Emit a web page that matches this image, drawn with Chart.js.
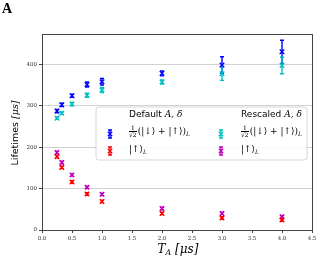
<!DOCTYPE html>
<html><head><meta charset="utf-8">
<script src="https://cdn.jsdelivr.net/npm/chart.js@4"></script>
<style>
body{margin:0;background:#fff;}
#wrap{position:relative;width:324px;height:267px;overflow:hidden;}
canvas{position:absolute;left:0;top:0;}
.t{position:absolute;white-space:nowrap;color:#000;line-height:1;}
.c{transform:translate(-50%,-50%);}
.m{font-family:'DejaVu Serif','Liberation Serif',serif;font-style:italic;}
.s{font-family:'DejaVu Sans',sans-serif;}
.fr{display:inline-block;vertical-align:middle;text-align:center;font-size:6px;line-height:1;margin-right:1px;font-family:'DejaVu Serif',serif;font-style:normal;}
.fr span{display:block;}
.fr .d{border-top:0.7px solid #000;}
sub{font-size:0.65em;vertical-align:-0.3em;}
</style></head><body>
<div id="wrap">
<canvas id="cv" width="324" height="267"></canvas>
<div class="t" style="left:2px;top:1px;font:bold 14px 'Liberation Serif',serif;">A</div>
<div class="t c s" style="left:15px;top:133px;font-size:9.5px;transform:translate(-50%,-50%) rotate(-90deg);">Lifetimes <span class="m">[μs]</span></div>
<div class="t c m" style="left:178px;top:250px;font-size:12px;">T<sub>A</sub> [μs]</div>
<div class="t s" style="left:129px;top:110px;font-size:9px;">Default <span class="m">A, δ</span></div>
<div class="t s" style="left:241px;top:110px;font-size:9px;">Rescaled <span class="m">A, δ</span></div>
<div class="t m" style="left:129px;top:125px;font-size:9px;font-style:normal;"><span class="fr"><span>1</span><span class="d">√2</span></span>(|↓⟩ + |↑⟩)<sub><i>L</i></sub></div>
<div class="t m" style="left:241px;top:125px;font-size:9px;font-style:normal;"><span class="fr"><span>1</span><span class="d">√2</span></span>(|↓⟩ + |↑⟩)<sub><i>L</i></sub></div>
<div class="t m" style="left:129px;top:145px;font-size:9px;font-style:normal;">|↑⟩<sub><i>L</i></sub></div>
<div class="t m" style="left:241px;top:145px;font-size:9px;font-style:normal;">|↑⟩<sub><i>L</i></sub></div>
</div>
<script>
// ---- data ----
const T_A = [0.25, 0.33, 0.5, 0.75, 1.0, 2.0, 3.0, 4.0];
const defaultSuper = [287, 302, 324, 351, 358, 378, 398, 430];
const defaultSuperErr = [4, 4, 4, 6, 8, 6, 20, 28];
const rescaledSuper = [270, 282, 304, 325, 338, 357, 377, 397];
const rescaledSuperErr = [3, 3, 4, 5, 6, 5, 16, 20];
const defaultUp = [177, 151, 116, 87, 69, 40, 29, 24];
const defaultUpErr = [3, 3, 3, 3, 3, 3, 3, 3];
const rescaledUp = [187, 163, 133, 103, 86, 52, 40, 32];
const rescaledUpErr = [3, 3, 3, 3, 3, 3, 3, 3];
const xTicks = [0, 0.5, 1.0, 1.5, 2.0, 2.5, 3.0, 3.5, 4.0, 4.5];
const yTicks = [0, 100, 200, 300, 400];

const COLORS = {blue:'#0000ff', cyan:'#00bfbf', red:'#ff0000', magenta:'#bf00bf'};

function mk(label, vals, errs, color){
  return {label, data: T_A.map((x,i)=>({x, y: vals[i]})), errors: errs,
    pointStyle:'crossRot', radius:3.2, borderWidth:1.4, borderColor:color,
    backgroundColor:color, showLine:false, hoverRadius:3.2};
}

function drawErr(ctx, x, y0, y1, color){
  ctx.save();
  ctx.strokeStyle = color; ctx.lineWidth = 1.4;
  ctx.beginPath();
  ctx.moveTo(x, y0); ctx.lineTo(x, y1);
  ctx.moveTo(x-2, y0); ctx.lineTo(x+2, y0);
  ctx.moveTo(x-2, y1); ctx.lineTo(x+2, y1);
  ctx.stroke();
  ctx.restore();
}
function drawCross(ctx, x, y, color){
  ctx.save(); ctx.strokeStyle = color; ctx.lineWidth = 1.3;
  const r = 2.2;
  ctx.beginPath();
  ctx.moveTo(x-r, y-r); ctx.lineTo(x+r, y+r);
  ctx.moveTo(x+r, y-r); ctx.lineTo(x-r, y+r);
  ctx.stroke(); ctx.restore();
}

const errPlugin = {
  id:'err',
  beforeDatasetsDraw(chart){
    const ctx = chart.ctx, ys = chart.scales.y;
    chart.data.datasets.forEach((ds, di)=>{
      const meta = chart.getDatasetMeta(di);
      meta.data.forEach((pt, j)=>{
        const v = ds.data[j].y, e = ds.errors[j];
        drawErr(ctx, pt.x, ys.getPixelForValue(v+e), ys.getPixelForValue(v-e), ds.borderColor);
      });
    });
  }
};

const frameLegend = {
  id:'frameLegend',
  afterDraw(chart){
    const ctx = chart.ctx, a = chart.chartArea;
    ctx.save();
    ctx.strokeStyle = '#444'; ctx.lineWidth = 1;
    ctx.strokeRect(Math.round(a.left)+0.5, Math.round(a.top)+0.5, Math.round(a.right-a.left), Math.round(a.bottom-a.top));
    // legend box
    const bx=96, by=107, bw=211, bh=53, r=3;
    ctx.beginPath();
    ctx.moveTo(bx+r, by); ctx.lineTo(bx+bw-r, by); ctx.quadraticCurveTo(bx+bw, by, bx+bw, by+r);
    ctx.lineTo(bx+bw, by+bh-r); ctx.quadraticCurveTo(bx+bw, by+bh, bx+bw-r, by+bh);
    ctx.lineTo(bx+r, by+bh); ctx.quadraticCurveTo(bx, by+bh, bx, by+bh-r);
    ctx.lineTo(bx, by+r); ctx.quadraticCurveTo(bx, by, bx+r, by);
    ctx.closePath();
    ctx.fillStyle = 'rgba(255,255,255,0.85)'; ctx.fill();
    ctx.strokeStyle = '#d6d6d6'; ctx.lineWidth = 1; ctx.stroke();
    ctx.restore();
    const items = [[110,134,COLORS.blue],[110,151,COLORS.red],[221,134,COLORS.cyan],[221,151,COLORS.magenta]];
    items.forEach(([x,y,c])=>{ drawErr(ctx, x, y-4, y+4, c); drawCross(ctx, x, y, c); });
  }
};

const tickFont = {family:"'DejaVu Serif','Liberation Serif',serif", size:5.5};
new Chart(document.getElementById('cv'), {
  type:'scatter',
  data:{datasets:[
    mk('Default superposition', defaultSuper, defaultSuperErr, COLORS.blue),
    mk('Default up', defaultUp, defaultUpErr, COLORS.red),
    mk('Rescaled superposition', rescaledSuper, rescaledSuperErr, COLORS.cyan),
    mk('Rescaled up', rescaledUp, rescaledUpErr, COLORS.magenta)
  ]},
  options:{
    responsive:false, animation:false,
    layout:{padding:{top:34, right:12, left:0, bottom:0}},
    plugins:{legend:{display:false}, tooltip:{enabled:false}},
    scales:{
      x:{type:'linear', min:0, max:4.5,
        afterBuildTicks(s){ s.ticks = xTicks.map(v=>({value:v})); },
        ticks:{font:tickFont, color:'#333', padding:2, maxRotation:0, autoSkip:false,
          callback:(v)=>Number(v).toFixed(1)},
        grid:{drawOnChartArea:false, drawTicks:true, tickLength:3, color:'#444', tickColor:'#444'},
        border:{color:'#444'},
        afterFit(s){ s.height = 37; }
      },
      y:{min:0, max:473,
        afterBuildTicks(s){ s.ticks = yTicks.map(v=>({value:v})); },
        ticks:{font:tickFont, color:'#333', padding:2, autoSkip:false},
        grid:{color:'#d2d2d2', lineWidth:1, tickLength:3, tickColor:'#444'},
        border:{color:'#444'},
        afterFit(s){ s.width = 42; }
      }
    }
  },
  plugins:[errPlugin, frameLegend]
});
</script>
</body></html>
